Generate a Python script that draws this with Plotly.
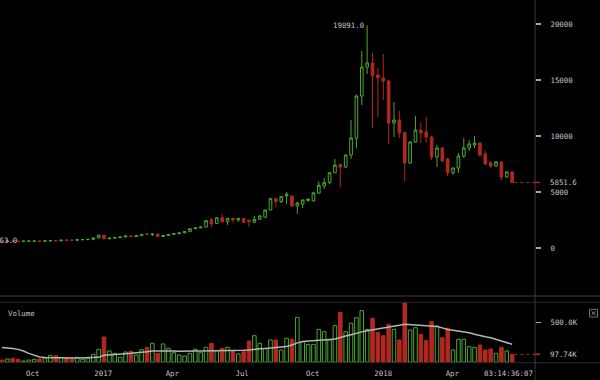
import plotly.graph_objects as go
import pandas as pd

# ---------------- data (weekly candles) ----------------
week_start = "2016-08-22"
n_weeks = 96

opens = [585, 575, 607, 600, 595, 608, 612, 617, 606, 637, 654, 641, 703, 696, 690, 741,
         748, 772, 895, 1150, 820, 880, 925, 985, 1080, 1010, 1100, 1260, 1225, 1245, 1030, 1120,
         1200, 1280, 1350, 1460, 1720, 1800, 1870, 2520, 2200, 2700, 2350, 2660, 2510, 2650, 2480, 2300,
         2560, 2750, 3390, 4400, 4150, 4650, 4640, 3750, 3930, 4250, 4200, 4900, 5550, 5830, 6720, 7450,
         7220, 8300, 9800, 13570, 16160, 16520, 15450, 15180, 14910, 11160, 11430, 10300, 7590, 9460, 10530, 10360,
         9910, 8125, 8930, 7950, 6720, 7140, 8210, 8930, 9200, 9370, 8390, 7590, 7320, 7680, 6340, 6790]
highs = [592, 612, 615, 606, 612, 616, 622, 620, 642, 662, 658, 722, 745, 712, 748, 755,
         782, 900, 1160, 1165, 905, 935, 995, 1090, 1095, 1110, 1220, 1300, 1280, 1260, 1130, 1215,
         1290, 1360, 1470, 1740, 1830, 1900, 2460, 2705, 2720, 3000, 2680, 2700, 2660, 2680, 2520, 2880,
         2940, 3420, 4480, 4480, 4600, 5020, 4700, 4100, 4320, 4460, 4960, 5950, 6250, 6760, 7950, 7550,
         8350, 11430, 13700, 17590, 19891, 17410, 16070, 17320, 15000, 13040, 12230, 10400, 9550, 11790, 11160, 11700,
         10000, 9200, 9000, 8050, 7200, 8480, 9820, 9640, 9990, 9450, 8660, 7770, 7750, 7740, 6820, 6830]
lows = [568, 570, 596, 563, 590, 603, 607, 600, 602, 630, 634, 637, 680, 688, 685, 725,
        740, 765, 890, 780, 800, 870, 915, 970, 990, 1000, 1090, 1180, 1050, 990, 1000, 1110,
        1180, 1260, 1340, 1440, 1700, 1780, 1850, 1850, 2150, 2260, 2060, 2260, 2320, 2240, 1880, 2240,
        2540, 2700, 3370, 3640, 4000, 3930, 3700, 3040, 3570, 4110, 4180, 4850, 5270, 5700, 6700, 5400,
        7150, 7950, 8900, 12770, 15540, 10710, 11700, 13210, 9290, 9910, 9820, 5980, 7500, 9400, 9380, 9380,
        7860, 7230, 7680, 6430, 6520, 6700, 8040, 8660, 8930, 8130, 7400, 7140, 7250, 6070, 6300, 5800]
closes = [575, 607, 600, 595, 608, 612, 617, 606, 637, 654, 641, 703, 696, 690, 741, 748,
          772, 895, 1150, 820, 880, 925, 985, 1080, 1010, 1100, 1210, 1225, 1245, 1030, 1120, 1200,
          1280, 1350, 1460, 1720, 1800, 1870, 2440, 2140, 2700, 2350, 2650, 2510, 2650, 2300, 2350, 2560,
          2860, 3390, 4400, 4150, 4580, 4800, 3750, 4020, 4290, 4350, 4930, 5600, 5830, 6720, 7400, 7220,
          8300, 9820, 13570, 16160, 16520, 15360, 15180, 14910, 11160, 11430, 10270, 7590, 9460, 10530, 10270, 9910,
          8125, 8930, 7770, 6720, 7140, 8210, 8930, 9290, 9370, 8300, 7500, 7320, 7680, 6340, 6790, 5851.6]
volume_k = [26, 39, 48, 35, 14, 26, 35, 39, 48, 85, 80, 60, 55, 48, 60, 35,
            48, 98, 161, 316, 140, 110, 60, 127, 136, 89, 156, 186, 236, 110, 228, 173,
            118, 89, 77, 110, 161, 118, 186, 236, 143, 173, 186, 143, 102, 131, 265, 332,
            236, 173, 278, 278, 152, 299, 287, 563, 256, 223, 223, 412, 382, 278, 458, 626,
            382, 488, 558, 646, 412, 551, 375, 332, 475, 412, 278, 752, 403, 432, 349, 269,
            508, 454, 307, 425, 152, 287, 287, 194, 186, 215, 152, 165, 110, 186, 140, 97.74]
volume_ma_k = [185, 180, 172, 160, 140, 110, 90, 65, 58, 55, 53, 52, 52, 52, 52, 53,
               54, 56, 60, 85, 92, 98, 102, 106, 110, 114, 118, 130, 140, 142, 144, 146,
               140, 135, 133, 135, 138, 140, 140, 141, 141, 141, 142, 144, 146, 148, 152, 162,
               168, 172, 178, 183, 186, 195, 215, 242, 258, 265, 270, 276, 280, 284, 290, 305,
               328, 345, 365, 380, 395, 405, 415, 427, 438, 450, 462, 475, 470, 460, 454, 452,
               451, 448, 430, 410, 400, 392, 385, 370, 350, 330, 318, 305, 285, 260, 240, 224]

month_ticks = ["2016-10-01", "2017-01-01", "2017-04-01", "2017-07-01",
               "2017-10-01", "2018-01-01", "2018-04-01"]
month_labels = ["Oct", "2017", "Apr", "Jul", "Oct", "2018", "Apr"]
price_ticks = [0, 5000, 10000, 15000, 20000]
price_tick_labels = ["0", "5000", "10000", "15000", "20000"]
volume_ticks = [500000]
volume_tick_labels = ["500.0K"]
countdown_text = "03:14:36:07"

# ---------------- styling ----------------
GREEN = "#4aa832"
RED = "#b0281f"
TXT = "#c4c4c4"
LINE = "#2a2a2a"
FONT = "DejaVu Sans Mono"
FS = 7.4

dates = pd.date_range(week_start, periods=n_weeks, freq="7D")
volumes = [v * 1000 for v in volume_k]
volume_ma = [v * 1000 for v in volume_ma_k]
is_up = [c >= o for o, c in zip(opens, closes)]

x_start = dates[0] - pd.Timedelta(days=2.607)
x_end = dates[0] + pd.Timedelta(days=694.8)

fig = go.Figure()

fig.add_trace(go.Candlestick(
    x=dates, open=opens, high=highs, low=lows, close=closes,
    increasing=dict(line=dict(color=GREEN, width=1), fillcolor="rgba(0,0,0,0)"),
    decreasing=dict(line=dict(color=RED, width=1), fillcolor=RED),
    whiskerwidth=0, hoverinfo="skip", showlegend=False,
    xaxis="x", yaxis="y",
))

fig.add_trace(go.Bar(
    x=dates, y=volumes,
    width=7 * 86400000 * 0.66,
    marker=dict(color=["rgba(0,0,0,0)" if u else RED for u in is_up],
                line=dict(color=[GREEN if u else RED for u in is_up], width=1)),
    hoverinfo="skip", showlegend=False, xaxis="x", yaxis="y2",
))

fig.add_trace(go.Scatter(
    x=dates, y=volume_ma, mode="lines",
    line=dict(color="#b4b4b4", width=1.5),
    hoverinfo="skip", showlegend=False, xaxis="x", yaxis="y2",
))

H_PLOT = 363.0
def py(px):
    return (H_PLOT - px) / H_PLOT

def px_x(px):
    return px / 535.0

axis_font = dict(family=FONT, size=FS, color=TXT)

fig.update_layout(
    width=600, height=380,
    margin=dict(l=0, r=65, t=0, b=17),
    paper_bgcolor="#000000", plot_bgcolor="#000000",
    showlegend=False,
    bargap=0,
    xaxis=dict(
        type="date", range=[x_start, x_end], anchor="y2",
        rangeslider=dict(visible=False),
        showgrid=False, zeroline=False, showline=False,
        tickvals=month_ticks, ticktext=month_labels,
        ticks="outside", ticklen=3, tickcolor="rgba(0,0,0,0)",
        tickfont=axis_font, fixedrange=True,
    ),
    yaxis=dict(
        domain=[py(296), 1], range=[-4286, 22143], side="right",
        showgrid=False, zeroline=False, showline=False,
        tickvals=price_ticks, ticktext=price_tick_labels,
        ticks="outside", ticklen=5, tickwidth=1.3, tickcolor="#a8a8a8",
        ticklabelstandoff=8, tickfont=axis_font,
    ),
    yaxis2=dict(
        domain=[0, py(302.3)], range=[-11300, 751700], side="right",
        showgrid=False, zeroline=False, showline=False,
        tickvals=volume_ticks, ticktext=volume_tick_labels,
        ticks="outside", ticklen=5, tickwidth=1.3, tickcolor="#a8a8a8",
        ticklabelstandoff=8, tickfont=axis_font,
    ),
)

shapes = []
# separators
for ypx, w in [(296, 1.5), (302.3, 1), (362.7, 1)]:
    shapes.append(dict(type="line", xref="paper", yref="paper", x0=0, x1=1.13,
                       y0=py(ypx), y1=py(ypx), line=dict(color=LINE, width=w)))
# right vertical axis line
shapes.append(dict(type="line", xref="paper", yref="paper", x0=1, x1=1,
                   y0=py(380), y1=1, line=dict(color="#3c3c3c", width=1)))
# last price dotted line + red tick
last_close = closes[-1]
last_vol = volumes[-1]
shapes.append(dict(type="line", xref="x", yref="y", x0=dates[-1] + pd.Timedelta(days=3), x1=x_end,
                   y0=last_close, y1=last_close, line=dict(color=RED, width=1, dash="dot")))
shapes.append(dict(type="line", xref="paper", yref="y", x0=1, x1=1 + 5 / 535,
                   y0=last_close, y1=last_close, line=dict(color=RED, width=1.5)))
shapes.append(dict(type="line", xref="x", yref="y2", x0=dates[-1] + pd.Timedelta(days=3), x1=x_end,
                   y0=last_vol, y1=last_vol, line=dict(color=RED, width=1, dash="dot")))
shapes.append(dict(type="line", xref="paper", yref="y2", x0=1, x1=1 + 5 / 535,
                   y0=last_vol, y1=last_vol, line=dict(color=RED, width=1.5)))
# close box icon of volume pane
bx0, bx1, by0, by1 = 589.5, 597.5, 309.3, 317.0
shapes.append(dict(type="rect", xref="paper", yref="paper", x0=px_x(bx0), x1=px_x(bx1),
                   y0=py(by1), y1=py(by0), line=dict(color="#707070", width=1)))
shapes.append(dict(type="line", xref="paper", yref="paper", x0=px_x(bx0 + 2), x1=px_x(bx1 - 2),
                   y0=py(by0 + 2), y1=py(by1 - 2), line=dict(color="#909090", width=1)))
shapes.append(dict(type="line", xref="paper", yref="paper", x0=px_x(bx0 + 2), x1=px_x(bx1 - 2),
                   y0=py(by1 - 2), y1=py(by0 + 2), line=dict(color="#909090", width=1)))
fig.update_layout(shapes=shapes)

i_max = highs.index(max(highs))
i_min = lows.index(min(lows))
annotations = [
    dict(xref="x", yref="y", x=dates[i_max], y=highs[i_max], text=f"{highs[i_max]:.1f}",
         xanchor="right", yanchor="middle", xshift=-1, showarrow=False, font=axis_font),
    dict(xref="x", yref="y", x=dates[i_min], y=lows[i_min], text=f"{lows[i_min]:.1f}",
         xanchor="right", yanchor="middle", xshift=1, yshift=1, showarrow=False, font=axis_font),
    dict(xref="paper", yref="y", x=1, y=last_close, text=f"{last_close:.1f}",
         xanchor="left", yanchor="middle", xshift=13, showarrow=False, font=axis_font),
    dict(xref="paper", yref="y2", x=1, y=last_vol, text=f"{last_vol/1000:.2f}K",
         xanchor="left", yanchor="middle", xshift=13, showarrow=False, font=axis_font),
    dict(xref="paper", yref="paper", x=px_x(6), y=py(313), text="Volume",
         xanchor="left", yanchor="middle", showarrow=False, font=axis_font),
    dict(xref="paper", yref="paper", x=px_x(535), y=py(373), text=countdown_text,
         xanchor="right", yanchor="middle", showarrow=False, font=axis_font, bgcolor="#000000"),
]
fig.update_layout(annotations=annotations)

fig.write_html("out.html", config=dict(displayModeBar=False, staticPlot=True),
               post_script="document.body.style.margin='0';document.body.style.background='#000';")
